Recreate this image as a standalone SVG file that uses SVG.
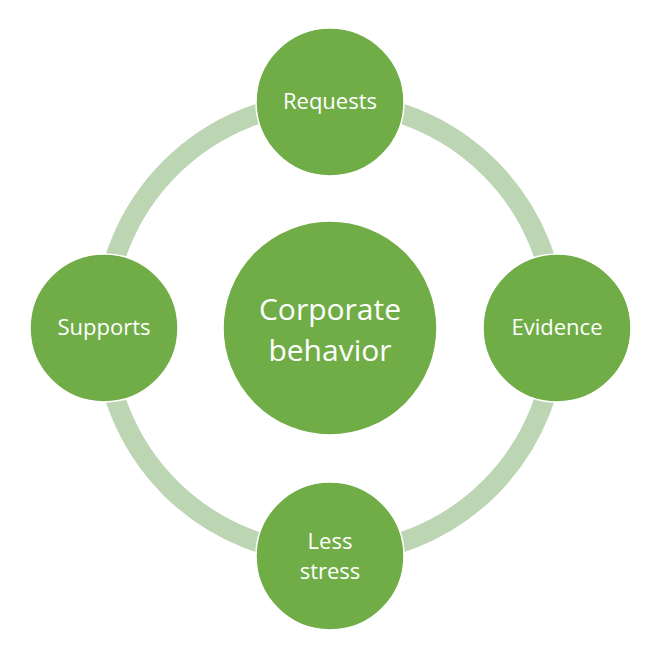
<svg xmlns="http://www.w3.org/2000/svg" width="660" height="660" viewBox="0 0 660 660">
<style>
.node{fill:#70ad47;stroke:#ffffff;stroke-width:1.5}
.t{fill:#ffffff;font-family:"Open Sans","Noto Sans",sans-serif;text-anchor:middle}
.s{font-size:22px}
.b{font-size:30px}
</style>
<rect width="660" height="660" fill="#ffffff"/>
<g id="connectors">
<circle cx="330" cy="328" r="226" fill="none" stroke="#bcd5b2" stroke-width="20"/>
</g>
<g id="center">
<circle class="node" cx="330" cy="328" r="107"/>
<text class="t b" x="330" y="320">Corporate</text>
<text class="t b" x="330" y="361">behavior</text>
</g>
<g id="requests">
<circle class="node" cx="330" cy="102" r="74"/>
<text class="t s" x="330" y="109">Requests</text>
</g>
<g id="evidence">
<circle class="node" cx="557" cy="328" r="74"/>
<text class="t s" x="557" y="335">Evidence</text>
</g>
<g id="less-stress">
<circle class="node" cx="330" cy="556" r="74"/>
<text class="t s" x="330" y="549">Less</text>
<text class="t s" x="330" y="579">stress</text>
</g>
<g id="supports">
<circle class="node" cx="104" cy="328" r="74"/>
<text class="t s" x="104" y="335">Supports</text>
</g>
</svg>
